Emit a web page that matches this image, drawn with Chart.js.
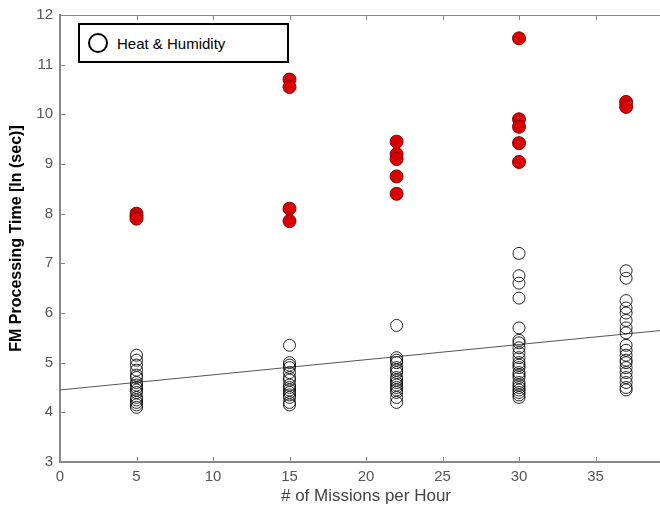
<!DOCTYPE html>
<html>
<head>
<meta charset="utf-8">
<script src="https://cdn.jsdelivr.net/npm/chart.js@4.4.1/dist/chart.umd.min.js"></script>
<style>
  html, body { margin: 0; padding: 0; background: #fff; }
  #wrap { position: relative; width: 660px; height: 508px; overflow: hidden; }
  #c { position: absolute; left: 0; top: 0; }
  #legend {
    position: absolute; left: 78px; top: 23px; width: 207px; height: 36px;
    border: 2px solid #000; background: #fff;
    font-family: "Liberation Sans", Arial, sans-serif; font-size: 15px; color: #000;
    display: flex; align-items: center;
  }
  #legend .mk { width: 16px; height: 16px; border: 2px solid #000; border-radius: 50%; margin-left: 8px; margin-right: 9px; }
</style>
</head>
<body>
<div id="wrap">
  <canvas id="c" width="672" height="508"></canvas>
  <div id="legend"><span class="mk"></span><span>Heat &amp; Humidity</span></div>
</div>
<script>
// ---- data ----
const missionRates = [5, 15, 22, 30, 37];
const xTicks = [0, 5, 10, 15, 20, 25, 30, 35, 40];
const yTicks = [3, 4, 5, 6, 7, 8, 9, 10, 11, 12];

// open circles (Heat & Humidity) per mission rate
const open5  = [5.15, 5.05, 4.95, 4.85, 4.75, 4.7, 4.6, 4.55, 4.5, 4.45, 4.4, 4.3, 4.25, 4.2, 4.15, 4.1];
const open15 = [5.35, 5.0, 4.95, 4.9, 4.8, 4.7, 4.65, 4.55, 4.5, 4.45, 4.4, 4.35, 4.3, 4.2, 4.15];
const open22 = [5.75, 5.1, 5.05, 5.0, 4.9, 4.85, 4.8, 4.7, 4.65, 4.6, 4.55, 4.5, 4.45, 4.4, 4.3, 4.2];
const open30 = [7.2, 6.75, 6.6, 6.3, 5.7, 5.45, 5.4, 5.3, 5.2, 5.1, 5.0, 4.95, 4.9, 4.8, 4.75, 4.7, 4.6, 4.55, 4.5, 4.45, 4.4, 4.35, 4.3];
const open37 = [6.85, 6.7, 6.25, 6.1, 6.0, 5.85, 5.7, 5.6, 5.35, 5.25, 5.15, 5.05, 5.0, 4.9, 4.8, 4.7, 4.6, 4.5, 4.45];

// filled red points per mission rate
const red5  = [8.0, 7.95, 7.9];
const red15 = [10.7, 10.55, 8.1, 7.85];
const red22 = [9.45, 9.2, 9.1, 8.75, 8.4];
const red30 = [11.53, 9.9, 9.75, 9.42, 9.04];
const red37 = [10.25, 10.15];

// trend line
const trendX = [0, 40];
const trendY = [4.45, 5.67];

// ---- build ----
const openGroups = [open5, open15, open22, open30, open37];
const redGroups = [red5, red15, red22, red30, red37];
const toPts = (groups) => groups.flatMap((vals, i) => vals.map(v => ({ x: missionRates[i], y: v })));

const FONT = '"Liberation Sans", Arial, sans-serif';

const insideTicks = {
  id: 'insideTicks',
  afterDraw(chart) {
    const { ctx, chartArea: a, scales } = chart;
    ctx.save();
    ctx.strokeStyle = '#888';
    ctx.lineWidth = 1;
    ctx.beginPath();
    ctx.moveTo(a.left, a.top + 0.5);
    ctx.lineTo(a.right, a.top + 0.5);
    ctx.stroke();
    ctx.beginPath();
    xTicks.forEach(t => {
      const px = Math.round(scales.x.getPixelForValue(t)) + 0.5;
      ctx.moveTo(px, a.bottom); ctx.lineTo(px, a.bottom - 5);
      ctx.moveTo(px, a.top); ctx.lineTo(px, a.top + 5);
    });
    yTicks.forEach(t => {
      const py = Math.round(scales.y.getPixelForValue(t)) + 0.5;
      ctx.moveTo(a.left, py); ctx.lineTo(a.left + 5, py);
    });
    ctx.stroke();
    ctx.restore();
  }
};

new Chart(document.getElementById('c'), {
  type: 'scatter',
  data: {
    datasets: [
      {
        type: 'line',
        data: trendX.map((x, i) => ({ x, y: trendY[i] })),
        borderColor: '#555',
        borderWidth: 1,
        pointRadius: 0,
        fill: false,
        order: 3
      },
      {
        data: toPts(openGroups),
        pointRadius: 6,
        pointBorderWidth: 1,
        borderColor: 'rgba(0,0,0,0.85)',
        backgroundColor: 'rgba(0,0,0,0)',
        order: 2
      },
      {
        data: toPts(redGroups),
        pointRadius: 6.5,
        pointBorderWidth: 1,
        borderColor: '#8a0000',
        backgroundColor: '#d80000',
        order: 1
      }
    ]
  },
  options: {
    responsive: false,
    animation: false,
    layout: { autoPadding: false, padding: { top: 15, left: 0, right: 0, bottom: 0 } },
    plugins: { legend: { display: false }, tooltip: { enabled: false } },
    scales: {
      x: {
        type: 'linear', min: 0, max: 40,
        afterFit: (s) => { s.height = 46; s.paddingLeft = 0; s.paddingRight = 0; },
        afterBuildTicks: (s) => { s.ticks = xTicks.map(v => ({ value: v })); },
        grid: { display: false, drawTicks: false },
        border: { display: true, color: '#888', width: 2 },
        ticks: {
          padding: 6, color: '#555', font: { family: FONT, size: 15 },
          callback: (v) => (v === 40 ? '' : String(v))
        },
        title: {
          display: true, text: '# of Missions per Hour', color: '#444',
          font: { family: FONT, size: 17 }, padding: { top: 0, bottom: 1 }
        }
      },
      y: {
        type: 'linear', min: 3, max: 12,
        afterFit: (s) => { s.width = 60; s.paddingTop = 0; s.paddingBottom = 0; },
        afterBuildTicks: (s) => { s.ticks = yTicks.map(v => ({ value: v })); },
        grid: { display: false, drawTicks: false },
        border: { display: true, color: '#888', width: 2 },
        ticks: { padding: 7, color: '#555', font: { family: FONT, size: 15 } },
        title: {
          display: true, text: 'FM Processing Time [ln (sec)]', color: '#000',
          font: { family: FONT, size: 16, weight: 'bold' }, padding: { top: 7, bottom: 0 }
        }
      }
    }
  },
  plugins: [insideTicks]
});
</script>
</body>
</html>
